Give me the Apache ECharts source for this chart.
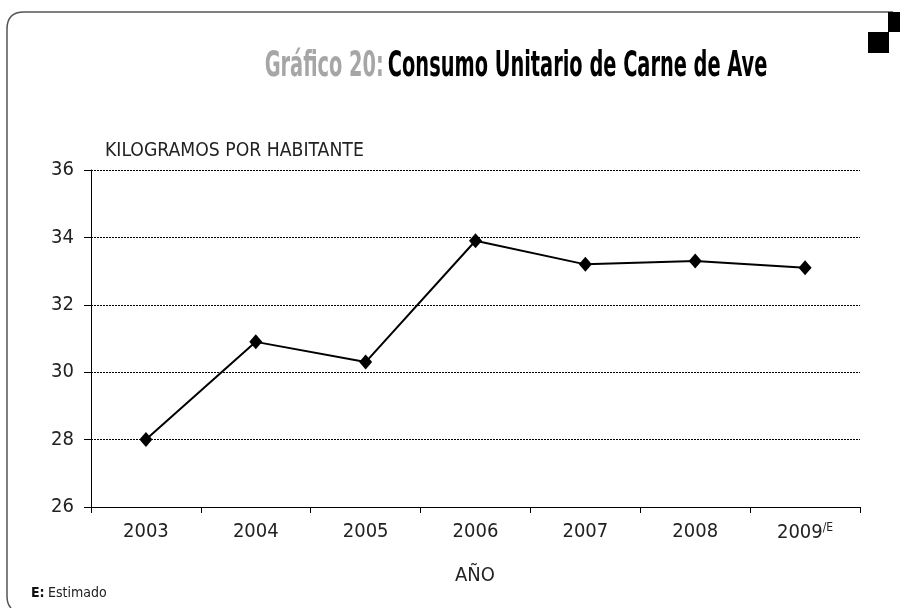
<!DOCTYPE html>
<html>
<head>
<meta charset="utf-8">
<script src="https://cdn.jsdelivr.net/npm/echarts@6/dist/echarts.min.js"></script>
<style>
html,body{margin:0;padding:0;background:#fff;}
#chart{width:900px;height:608px;}
</style>
</head>
<body>
<div id="chart"></div>
<script>
const years = ['2003', '2004', '2005', '2006', '2007', '2008', '2009'];
const yearLabels = ['2003', '2004', '2005', '2006', '2007', '2008', '2009/E'];
const consumo = [28.0, 30.9, 30.3, 33.9, 33.2, 33.3, 33.1];
const yTicks = [26, 28, 30, 32, 34, 36];
const titleGray = 'Gráfico 20:';
const titleBlack = 'Consumo Unitario de Carne de Ave';
const yAxisTitle = 'KILOGRAMOS POR HABITANTE';
const xAxisTitle = 'AÑO';
const noteKey = 'E:';
const noteText = 'Estimado';

const FONT = "'Liberation Sans Narrow','DejaVu Sans Condensed','Roboto Condensed',sans-serif";

const chart = echarts.init(document.getElementById('chart'), null, {renderer: 'canvas'});

const frameStyle = {fill: 'none', stroke: '#555', lineWidth: 1.5};

const option = {
  backgroundColor: '#fff',
  animation: false,
  grid: {left: 91, right: 40, top: 170, bottom: 101, containLabel: false},
  xAxis: {
    type: 'category',
    data: years,
    boundaryGap: true,
    axisLine: {show: true, lineStyle: {color: '#000', width: 1}},
    axisTick: {show: true, interval: 0, length: 6, inside: false, lineStyle: {color: '#000'}},
    axisLabel: {
      interval: 0,
      margin: 15,
      fontFamily: FONT,
      fontSize: 20,
      color: '#222',
      formatter: function (v, i) {
        const lab = yearLabels[i];
        if (lab.indexOf('/E') >= 0) {
          return lab.replace('/E', '') + '{sup|/E}';
        }
        return lab;
      },
      rich: {
        sup: {fontFamily: FONT, fontSize: 12, color: '#222', verticalAlign: 'top', padding: [0, 0, 10, 0]}
      }
    },
    splitLine: {show: false}
  },
  yAxis: {
    type: 'value',
    min: yTicks[0],
    max: yTicks[yTicks.length - 1],
    interval: 2,
    axisLine: {show: true, lineStyle: {color: '#000', width: 1}},
    axisTick: {show: true, length: 7, inside: false, lineStyle: {color: '#000'}},
    axisLabel: {margin: 17, fontFamily: FONT, fontSize: 20, color: '#222'},
    splitLine: {show: true, lineStyle: {color: '#000', width: 1, type: [2, 1]}}
  },
  series: [{
    type: 'line',
    data: consumo,
    symbol: 'diamond',
    symbolSize: [13, 15],
    lineStyle: {color: '#000', width: 2},
    itemStyle: {color: '#000'},
    z: 5
  }],
  graphic: [
    {type: 'line', shape: {x1: 24, y1: 12, x2: 893, y2: 12}, style: frameStyle},
    {type: 'bezierCurve', shape: {x1: 7, y1: 29, cpx1: 7, cpy1: 12, x2: 24, y2: 12}, style: frameStyle},
    {type: 'line', shape: {x1: 7, y1: 29, x2: 7, y2: 596}, style: frameStyle},
    {type: 'bezierCurve', shape: {x1: 7, y1: 596, cpx1: 7, cpy1: 604, x2: 11, y2: 608}, style: frameStyle},
    {type: 'rect', shape: {x: 888, y: 12, width: 12, height: 20}, style: {fill: '#000'}},
    {type: 'rect', shape: {x: 868, y: 32, width: 21, height: 21}, style: {fill: '#000'}},
    {
      type: 'text',
      x: 516, y: 67,
      scaleX: 0.615,
      style: {
        text: '{g|' + titleGray + '}  {b|' + titleBlack + '}',
        align: 'center',
        verticalAlign: 'middle',
        rich: {
          g: {fontFamily: FONT, fontWeight: 'bold', fontSize: 35, fill: '#a6a6a6'},
          b: {fontFamily: FONT, fontWeight: 'bold', fontSize: 35, fill: '#000'}
        }
      }
    },
    {
      type: 'text', x: 105, y: 151, scaleX: 0.96,
      style: {text: yAxisTitle, fontFamily: FONT, fontSize: 20, fill: '#222', align: 'left', verticalAlign: 'middle'}
    },
    {
      type: 'text', x: 475, y: 576,
      style: {text: xAxisTitle, fontFamily: FONT, fontSize: 20, fill: '#222', align: 'center', verticalAlign: 'middle'}
    },
    {
      type: 'text', x: 31, y: 593,
      style: {
        text: '{k|' + noteKey + '} {t|' + noteText + '}',
        verticalAlign: 'middle', align: 'left',
        rich: {
          k: {fontFamily: FONT, fontWeight: 'bold', fontSize: 14, fill: '#111'},
          t: {fontFamily: FONT, fontSize: 14, fill: '#222'}
        }
      }
    }
  ]
};
chart.setOption(option);
</script>
</body>
</html>
